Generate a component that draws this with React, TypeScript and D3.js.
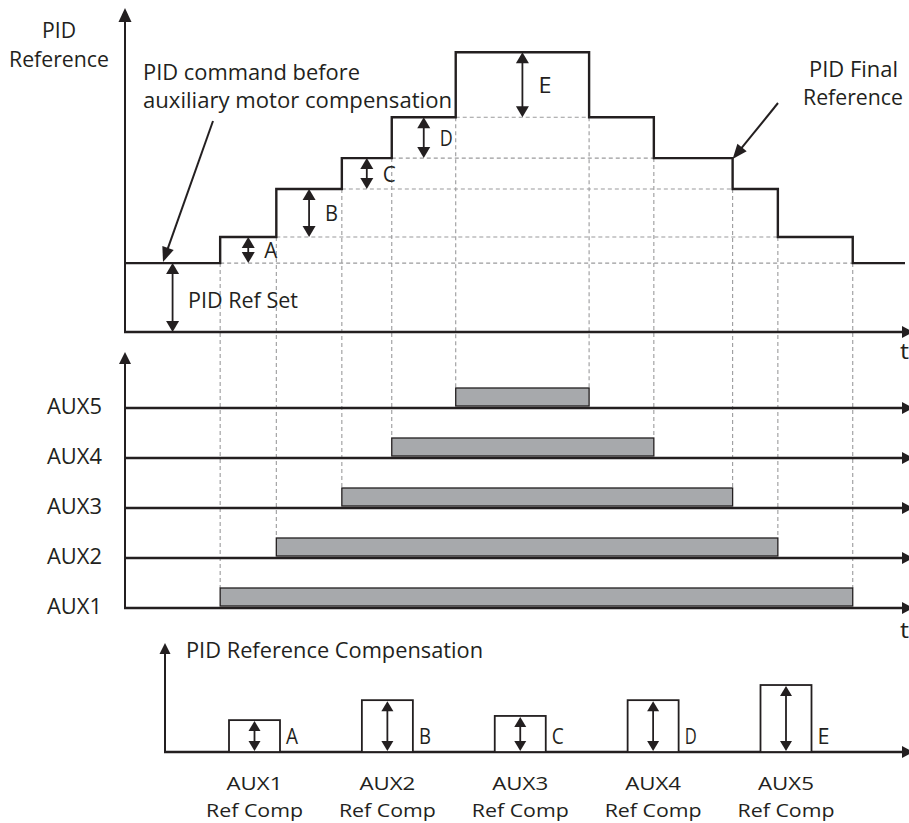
import React from "react";
import * as d3 from "d3";

// ---------- data ----------
const auxNames = ["AUX1", "AUX2", "AUX3", "AUX4", "AUX5"];
const compLetters = ["A", "B", "C", "D", "E"];
// time (0..100) at which each auxiliary motor turns on / off
const auxOnTime = [12.2, 19.4, 27.8, 34.2, 42.4];
const auxOffTime = [93.3, 83.7, 77.9, 67.8, 59.5];
// PID reference set level and the compensation added by each aux motor
const refSet = 21.4;
const stepComp = [8.1, 14.9, 9.6, 12.7, 20.2];
// values shown in the "PID Reference Compensation" panel
const compPanelValues = [9.9, 16.1, 11.2, 16.1, 20.8];

const INK = "#231f20";
const DASH = "#9a9a9c";
const BAR = "#a7a9ac";
const FONT = "'Open Sans', 'Noto Sans', sans-serif";

function head(x1: number, y1: number, x2: number, y2: number, len: number, hw: number) {
  const dx = x2 - x1, dy = y2 - y1;
  const d = Math.hypot(dx, dy) || 1;
  const ux = dx / d, uy = dy / d;
  const bx = x2 - ux * len, by = y2 - uy * len;
  const px = -uy * hw, py = ux * hw;
  return `${x2},${y2} ${bx + px},${by + py} ${bx - px},${by - py}`;
}

function Arrow({ x1, y1, x2, y2, len = 12, hw = 6, sw = 2 }: any) {
  const d = Math.hypot(x2 - x1, y2 - y1) || 1;
  const ex = x2 - ((x2 - x1) / d) * (len - 1);
  const ey = y2 - ((y2 - y1) / d) * (len - 1);
  return (
    <g>
      <line x1={x1} y1={y1} x2={ex} y2={ey} stroke={INK} strokeWidth={sw} />
      <polygon points={head(x1, y1, x2, y2, len, hw)} fill={INK} />
    </g>
  );
}

function DoubleArrow({ x, y1, y2, len = 11, hw = 6.5, sw = 1.8 }: any) {
  return (
    <g>
      <line x1={x} y1={y1 + len - 1} x2={x} y2={y2 - len + 1} stroke={INK} strokeWidth={sw} />
      <polygon points={head(x, y2, x, y1, len, hw)} fill={INK} />
      <polygon points={head(x, y1, x, y2, len, hw)} fill={INK} />
    </g>
  );
}

function T({ x, y, w, children, size = 21, anchor = "start" }: any) {
  const sx = anchor === "middle" ? x - w / 2 : anchor === "end" ? x - w : x;
  return (
    <text
      x={sx}
      y={y}
      fontFamily={FONT}
      fontSize={size}
      fill={INK}
      textLength={w}
      lengthAdjust="spacingAndGlyphs"
    >
      {children}
    </text>
  );
}

export default function App() {
  const W = 909, H = 823;

  // scales
  const xT = d3.scaleLinear().domain([0, 100]).range([125, 905]);
  const yTop = d3.scaleLinear().domain([0, 100]).range([332, 10]);
  const yAux = d3.scalePoint<string>().domain([...auxNames].reverse()).range([408, 608]);
  const xComp = d3.scalePoint<string>().domain(auxNames).range([254.5, 786]);
  const yComp = d3.scaleLinear().domain([0, 100]).range([752, 430]);

  // cumulative levels
  const levels: number[] = [refSet];
  stepComp.forEach((c, i) => levels.push(levels[i] + c));

  // step line points
  const pts: [number, number][] = [[0, levels[0]]];
  auxOnTime.forEach((t, i) => pts.push([t, levels[i + 1]]));
  const offOrder = d3.range(auxNames.length).sort((a, b) => auxOffTime[a] - auxOffTime[b]);
  offOrder.forEach((i) => pts.push([auxOffTime[i], levels[i]]));
  pts.push([100, levels[0]]);
  const stepPath = d3
    .line<[number, number]>()
    .x((d) => xT(d[0]))
    .y((d) => yTop(d[1]))
    .curve(d3.curveStepAfter)(pts) as string;

  const barH = 18;
  const barTop = (n: string) => (yAux(n) as number) - 20;

  const boxW = 51;

  return (
    <svg width={W} height={H} style={{ position: "absolute", left: 0, top: 0 }}>
      <rect x={0} y={0} width={W} height={H} fill="#fff" />

      {/* dashed guides */}
      <g stroke={DASH} strokeWidth={1.1} strokeDasharray="4,3" fill="none">
        {auxNames.map((n, i) => (
          <g key={n}>
            <line x1={xT(auxOnTime[i])} x2={xT(auxOffTime[i])} y1={yTop(levels[i])} y2={yTop(levels[i])} />
            <line x1={xT(auxOnTime[i])} x2={xT(auxOnTime[i])} y1={yTop(levels[i])} y2={barTop(n)} />
            <line x1={xT(auxOffTime[i])} x2={xT(auxOffTime[i])} y1={yTop(levels[i])} y2={barTop(n)} />
          </g>
        ))}
      </g>

      {/* ---------- top panel ---------- */}
      <Arrow x1={125} y1={yTop(0)} x2={125} y2={8} len={14} hw={6.5} sw={2} />
      <Arrow x1={124} y1={yTop(0)} x2={913} y2={yTop(0)} len={11} hw={6} sw={2.4} />
      <path d={stepPath} fill="none" stroke={INK} strokeWidth={2.4} />

      <T x={42} y={38} w={34}>PID</T>
      <T x={9} y={67} w={100}>Reference</T>
      <T x={143} y={80} w={217}>PID command before</T>
      <T x={143} y={108} w={309}>auxiliary motor compensation</T>
      <T x={809} y={77} w={89}>PID Final</T>
      <T x={803} y={105} w={100}>Reference</T>
      <T x={900} y={359} w={9}>t</T>

      <Arrow x1={213} y1={121} x2={163} y2={yTop(levels[0]) - 1} len={15} hw={6} sw={2} />
      <Arrow x1={778} y1={103} x2={xT(auxOffTime[2])} y2={yTop(levels[3]) + 1} len={15} hw={6} sw={2} />

      {/* Ref Set arrow */}
      <DoubleArrow x={(xT(0) + xT(auxOnTime[0])) / 2} y1={yTop(levels[0])} y2={yTop(0)} />
      <T x={188} y={308} w={110}>PID Ref Set</T>

      {compLetters.map((L, i) => {
        const xa = i < 4 ? (xT(auxOnTime[i]) + xT(auxOnTime[i + 1])) / 2 : (xT(auxOnTime[4]) + xT(auxOffTime[4])) / 2;
        const yt = yTop(levels[i + 1]);
        const yb = yTop(levels[i]);
        return (
          <g key={L}>
            <DoubleArrow x={xa} y1={yt} y2={yb} />
            <T x={xa + 16} y={(yt + yb) / 2 + 8} w={13}>{L}</T>
          </g>
        );
      })}

      {/* ---------- AUX panel ---------- */}
      <Arrow x1={125} y1={609} x2={125} y2={352} len={12} hw={6} sw={2} />
      {auxNames.map((n, i) => (
        <g key={n}>
          <rect
            x={xT(auxOnTime[i])}
            y={barTop(n)}
            width={xT(auxOffTime[i]) - xT(auxOnTime[i])}
            height={barH}
            fill={BAR}
            stroke={INK}
            strokeWidth={1.3}
          />
          <Arrow x1={124} y1={yAux(n)} x2={913} y2={yAux(n)} len={11} hw={6} sw={2.4} />
          <T x={102} y={(yAux(n) as number) + 6} w={55} size={22} anchor="end">{n}</T>
        </g>
      ))}
      <T x={900} y={638} w={9}>t</T>

      {/* ---------- compensation panel ---------- */}
      <Arrow x1={165} y1={752} x2={165} y2={643} len={11} hw={5.5} sw={2} />
      <Arrow x1={164} y1={752} x2={913} y2={752} len={11} hw={6} sw={2.4} />
      <T x={186} y={658} w={297}>PID Reference Compensation</T>
      {auxNames.map((n, i) => {
        const cx = xComp(n) as number;
        const top = yComp(compPanelValues[i]);
        return (
          <g key={n}>
            <rect x={cx - boxW / 2} y={top} width={boxW} height={752 - top} fill="#fff" stroke={INK} strokeWidth={1.8} />
            <DoubleArrow x={cx} y1={top + 1} y2={751} len={10} hw={6} sw={1.8} />
            <T x={cx + boxW / 2 + 6} y={744} w={12}>{compLetters[i]}</T>
            <T x={cx} y={790} w={56} size={19} anchor="middle">{n}</T>
            <T x={cx} y={817} w={97} size={19} anchor="middle">Ref Comp</T>
          </g>
        );
      })}
    </svg>
  );
}
